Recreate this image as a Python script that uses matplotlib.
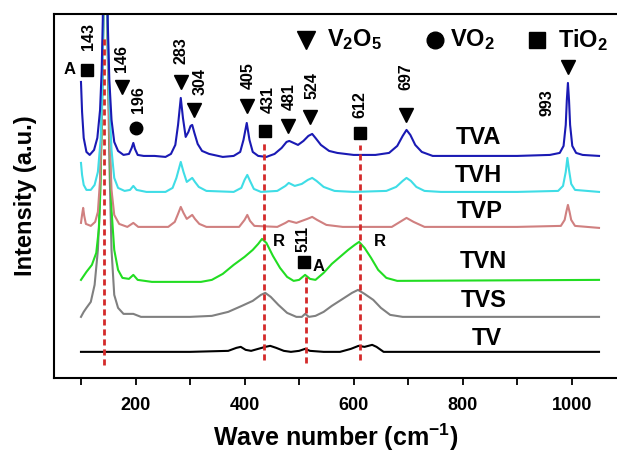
import numpy as np
import matplotlib
matplotlib.use('Agg')
import matplotlib.pyplot as plt

plt.rcParams['font.family'] = ['Liberation Sans', 'DejaVu Sans']
plt.rcParams['font.weight'] = 'bold'
plt.rcParams['mathtext.fontset'] = 'custom'
plt.rcParams['mathtext.rm'] = 'Liberation Sans:bold'
plt.rcParams['mathtext.bf'] = 'Liberation Sans:bold'

#%% spectra (stacked, arbitrary units)
tva_x = [100, 102, 105, 110, 116, 124, 130, 135, 138, 140, 142, 146, 149, 152, 156, 161, 168, 178, 188, 193,
         196, 199, 204, 215, 235, 255, 265, 273, 278, 283, 287, 292, 297, 301, 304, 308, 314, 322, 335, 360,
         380, 392, 398, 404, 409, 415, 425, 440, 455, 468, 477, 482, 490, 498, 508, 517, 524, 530, 540, 555,
         570, 600, 640, 665, 680, 690, 697, 704, 713, 725, 745, 800, 900, 960, 978, 985, 989, 991, 993, 995,
         997, 1001, 1008, 1020, 1050]
tva_y = [296, 266, 240, 226, 223, 228, 240, 268, 308, 358, 480, 480, 358, 298, 258, 236, 227, 223, 224, 230,
         235, 229, 223, 222, 222, 221, 224, 233, 253, 280, 260, 241, 246, 252, 253, 245, 234, 227, 224, 221,
         222, 226, 238, 255, 238, 226, 222, 221, 224, 230, 236, 237, 235, 233, 237, 242, 244, 240, 233, 227,
         225, 223, 223, 225, 232, 242, 248, 243, 233, 226, 222, 222, 222, 223, 225, 232, 253, 278, 295, 278,
         253, 232, 225, 223, 222]

tvh_x = [100, 102, 105, 110, 118, 125, 131, 136, 139, 141, 142, 146, 149, 152, 156, 161, 168, 180, 190, 196,
         202, 220, 255, 268, 275, 283, 288, 294, 299, 304, 309, 316, 330, 380, 394, 400, 405, 410, 417, 430,
         460, 475, 481, 492, 505, 516, 524, 532, 545, 565, 600, 660, 678, 690, 697, 705, 715, 730, 760, 900,
         975, 984, 989, 992, 995, 999, 1006, 1050]
tvh_y = [215, 203, 193, 188, 188, 193, 206, 238, 288, 358, 480, 480, 348, 278, 228, 200, 190, 187, 188, 192,
         188, 186, 186, 190, 200, 216, 206, 196, 198, 200, 196, 191, 187, 186, 190, 198, 203, 197, 189, 186,
         187, 192, 195, 192, 194, 198, 200, 197, 191, 187, 186, 187, 191, 197, 200, 197, 191, 187, 186, 186,
         187, 192, 206, 220, 208, 194, 188, 186]

tvp_x = [100, 102, 104, 106, 109, 118, 126, 131, 135, 138, 141, 142, 146, 149, 152, 156, 161, 170, 185, 196,
         205, 260, 272, 278, 283, 288, 294, 299, 304, 309, 317, 330, 390, 400, 405, 410, 418, 460, 475, 481,
         495, 515, 524, 533, 550, 580, 670, 685, 697, 710, 730, 900, 980, 987, 990, 993, 996, 999, 1006, 1050]
tvp_y = [155, 163, 170, 162, 154, 152, 156, 166, 198, 258, 358, 480, 480, 338, 248, 188, 163, 154, 151, 155,
         151, 151, 156, 164, 171, 165, 159, 161, 163, 159, 154, 151, 151, 158, 163, 157, 152, 151, 155, 157,
         155, 159, 161, 158, 153, 151, 151, 156, 160, 156, 151, 151, 152, 158, 166, 173, 166, 158, 152, 150]

tvn_x = [100, 110, 120, 128, 133, 136, 139, 141, 142, 146, 149, 152, 156, 161, 168, 176, 188, 196, 204, 230,
         320, 340, 360, 380, 400, 415, 425, 432, 440, 452, 465, 478, 490, 500, 511, 520, 530, 545, 560, 575,
         590, 602, 610, 620, 632, 645, 660, 680, 1050]
tvn_y = [98, 106, 113, 125, 150, 200, 280, 358, 480, 480, 338, 248, 168, 128, 108, 100, 99, 103, 98, 96,
         96, 98, 104, 113, 121, 128, 134, 139, 135, 122, 110, 101, 97, 98, 103, 99, 98, 105, 114, 121,
         128, 133, 136, 130, 120, 108, 100, 97, 98]

tvs_x = [100, 105, 110, 118, 125, 131, 135, 138, 141, 142, 146, 149, 152, 156, 161, 168, 178, 196, 210, 300,
         340, 370, 395, 415, 430, 438, 448, 462, 478, 495, 505, 511, 518, 530, 545, 560, 580, 597, 608, 620,
         636, 650, 667, 690, 1050]
tvs_y = [61, 66, 70, 76, 93, 128, 178, 258, 358, 480, 480, 328, 218, 128, 83, 70, 64, 64, 61, 61,
         62, 66, 72, 77, 83, 85, 81, 73, 65, 61, 61, 64, 61, 62, 66, 72, 79, 85, 88, 84,
         78, 70, 63, 61, 61]

tv_x = [100, 200, 300, 370, 385, 393, 402, 412, 425, 438, 447, 458, 472, 485, 500, 511, 520, 545, 575, 595,
        609, 620, 634, 642, 655, 700, 1050]
tv_y = [26, 26, 26, 27, 30, 31, 28, 27, 29, 31, 32, 30, 27, 26, 27, 29, 27, 26, 26, 29,
        32, 31, 33, 31, 26, 26, 26]

spectra = [('TV', tv_x, tv_y, 'black'),
           ('TVS', tvs_x, tvs_y, '#808080'),
           ('TVN', tvn_x, tvn_y, '#22dd22'),
           ('TVP', tvp_x, tvp_y, '#d08080'),
           ('TVH', tvh_x, tvh_y, '#3fdde6'),
           ('TVA', tva_x, tva_y, '#1a1ab4')]

# name, label x, label y
name_pos = {'TVA': (828, 240), 'TVH': (828, 202), 'TVP': (832, 166),
            'TVN': (838, 116), 'TVS': (838, 77), 'TV': (845, 39)}

# reference lines: x, ymin, ymax
ref_x = [143, 435, 513, 611]
ref_lo = [13, 18, 15, 18]
ref_hi = [341, 235, 105, 233]

# peak labels: text, text x, text y, marker, marker x, marker y
peaks = [('143', 113, 341, 's', 111, 308),
         ('146', 175, 319, 'v', 175, 291),
         ('196', 205, 278, 'o', 201, 250),
         ('283', 284, 327, 'v', 284, 296),
         ('304', 318, 296, 'v', 307, 268),
         ('405', 406, 302, 'v', 405, 272),
         ('431', 443, 278, 's', 438, 247),
         ('481', 482, 281, 'v', 480, 252),
         ('524', 524, 292, 'v', 520, 261),
         ('612', 612, 273, 's', 612, 245),
         ('697', 696, 301, 'v', 696, 263),
         ('993', 955, 275, 'v', 994, 311),
         ('511', 507, 139, 's', 509, 116)]
msize = {'v': 10, 's': 8.5, 'o': 9}

#%%
fig = plt.figure(figsize=(6.17, 4.58), dpi=100)
ax = fig.add_axes([0.0875, 0.175, 0.9125, 0.7945])

for name, x, y, c in spectra:
    ax.plot(x, y, color=c, lw=1.5)
    tx, ty = name_pos[name]
    ax.text(tx, ty, name, fontsize=17, fontweight='bold', ha='center', va='center')

for x, lo, hi in zip(ref_x, ref_lo, ref_hi):
    ax.plot([x, x], [lo, hi], color='#d42a2a', lw=2, dashes=(2.2, 1.4), zorder=5)

for txt, tx, ty, m, mx, my in peaks:
    ax.text(tx, ty, txt, rotation=90, fontsize=11.5, fontweight='bold', ha='center', va='center')
    ax.plot(mx, my, marker=m, color='black', ms=msize[m], ls='none')

ax.text(80, 308, 'A', fontsize=12, fontweight='bold', ha='center', va='center')
ax.text(463, 136, 'R', fontsize=12, fontweight='bold', ha='center', va='center')
ax.text(535, 111, 'A', fontsize=12, fontweight='bold', ha='center', va='center')
ax.text(649, 136, 'R', fontsize=12, fontweight='bold', ha='center', va='center')

# phase key
ax.plot(513, 338, marker='v', color='black', ms=13, ls='none')
ax.text(552, 338, r'$\mathbf{V_2O_5}$', fontsize=17, ha='left', va='center')
ax.plot(750, 338, marker='o', color='black', ms=12, ls='none')
ax.text(777, 338, r'$\mathbf{VO_2}$', fontsize=17, ha='left', va='center')
ax.plot(937, 338, marker='s', color='black', ms=12, ls='none')
ax.text(975, 338, r'$\mathbf{TiO_2}$', fontsize=17, ha='left', va='center')

ax.set_xlim(50.5, 1083)
ax.set_ylim(0, 364)
ax.set_xticks([200, 400, 600, 800, 1000])
ax.set_xticks([100, 300, 500, 700, 900], minor=True)
ax.tick_params(axis='x', which='both', direction='out', length=5, width=1.3, labelsize=13, pad=9)
ax.set_yticks([])
for lab in ax.get_xticklabels():
    lab.set_fontweight('bold')
for s in ['left', 'top', 'bottom']:
    ax.spines[s].set_linewidth(1.5)
ax.spines['right'].set_visible(False)

ax.set_xlabel(r'Wave number (cm$^{\mathbf{-1}}$)', fontsize=18, fontweight='bold', labelpad=5)
ax.set_ylabel('Intensity (a.u.)', fontsize=17, fontweight='bold', labelpad=12)

plt.savefig('out.png', dpi=100)
